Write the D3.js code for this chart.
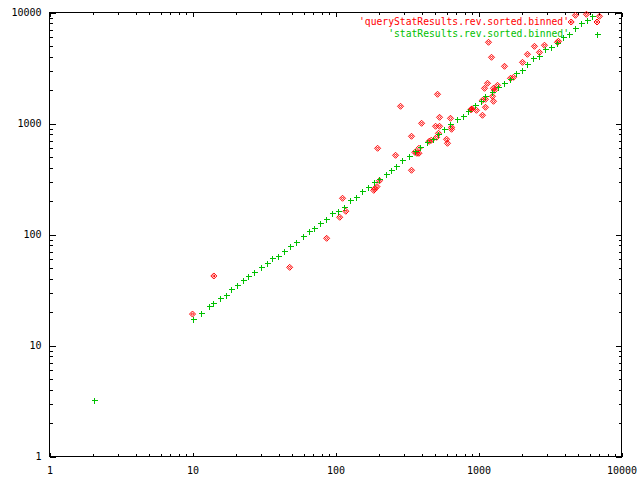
<!DOCTYPE html>
<html>
<head>
<meta charset="utf-8">
<script src="https://cdn.jsdelivr.net/npm/d3@7"></script>
<style>
  body { margin: 0; background: #fff; }
  text { font-family: "DejaVu Sans Mono", monospace; font-size: 10px; }
  .legend text { font-size: 9.7px; }
</style>
</head>
<body>
<div id="chart"></div>
<script>

var width = 640;
var height = 480;

// series 1: 'queryStatResults.rev.sorted.binned' (red diamonds)
var queryX = [10, 14.1, 47.8, 86.7, 107, 112, 118, 185, 189, 195, 203, 197, 263, 285, 340, 340, 400,
  359, 371, 383, 383, 452, 467, 501, 517, 534, 534, 525, 509, 637, 648, 648, 598, 607,
  885, 894, 903, 968, 1066, 1066, 1119, 1119, 1102, 1156, 1273, 1294, 1253, 1273, 1358,
  1233, 1175, 1520, 1757, 1674, 2031, 2200, 2462, 2669, 2892, 3566, 3624, 4446, 4764, 5685, 7011];
var queryY = [19.2, 42.3, 50.6, 92.4, 143, 212, 162, 250, 259, 270, 305, 598, 517, 1429, 379, 767, 1004,
  550, 539, 598, 539, 691, 706, 944, 1833, 1137, 944, 816, 751, 1114, 924, 887, 721, 663,
  1330, 1343, 1356, 1315, 1186, 1618, 1652, 1400, 2075, 2302, 2075, 1991, 1758, 1585, 2208,
  3949, 5391, 3276, 2608, 2554, 3558, 4201, 4958, 4377, 5070, 5391, 5505, 8210, 9436, 9638, 9245];

// series 2: 'statResults.rev.sorted.binned' (green crosses)
var statX = [2.06, 10, 11.4, 13, 13.8, 15.5, 17.1, 18.5, 20.4, 22.4, 24.3, 26.8, 30, 33, 36, 39.4,
  43.4, 47.8, 52.6, 58.9, 64.9, 70.3, 77.4, 85.3, 94, 103.5, 114, 126, 138, 152, 168, 185,
  203, 224, 243, 267, 294, 324, 357, 393, 433, 477, 525, 578, 637, 702, 773, 851, 938, 1033,
  1119, 1233, 1358, 1496, 1648, 1815, 1999, 2200, 2423, 2669, 2940, 3238, 3566, 3928, 4326,
  4764, 5247, 5779, 6266];
var statY = [3.23, 17.2, 19.6, 22.5, 24, 26.6, 28.3, 32.1, 34.9, 38.7, 42, 45.6, 50.7, 55, 61.1, 63.6,
  70.6, 78.8, 85.1, 96.9, 107, 114, 126, 137, 155, 162, 176, 203, 216, 245, 266, 295,
  314, 349, 379, 411, 466, 507, 562, 611, 677, 721, 800, 887, 984, 1091, 1161, 1288, 1459, 1585,
  1758, 1910, 2119, 2302, 2501, 2833, 3015, 3415, 3868, 4030, 4660, 4857, 5286, 5985, 6364,
  7208, 7993, 8503, 9245];

var majorTicks = [1, 10, 100, 1000, 10000];
var legendNames = ["'queryStatResults.rev.sorted.binned'", "'statResults.rev.sorted.binned'"];
var colors = ["#ff0000", "#00c000"];

var minorTicks = [];
majorTicks.slice(0, 4).forEach(function(d){
  for (var k = 2; k < 10; k++) minorTicks.push(d * k);
});

var svg = d3.select("#chart")
  .append("svg")
  .attr("width", width)
  .attr("height", height);

// plot frame (note: "top" is reserved on window, so use other names)
var plotLeft = 49.5, plotRight = 621.5, plotTop = 12.5, plotBottom = 456.5;

var x = d3.scaleLog().domain([1, 10000]).range([plotLeft, plotRight]);
var y = d3.scaleLog().domain([1, 10000]).range([plotBottom, plotTop]);

function styleAxis(g){
  g.select(".domain").remove();
  g.attr("font-family", null).attr("font-size", null);
  g.selectAll("line").attr("stroke", "#000").attr("shape-rendering", "crispEdges");
  g.selectAll("text").attr("fill", "#000");
}

// bottom + top
svg.append("g").attr("transform", "translate(0," + plotBottom + ")")
  .call(d3.axisBottom(x).tickValues(majorTicks).tickFormat(d3.format("d")).tickSize(-4).tickPadding(10))
  .call(styleAxis);
svg.append("g").attr("transform", "translate(0," + plotBottom + ")")
  .call(d3.axisBottom(x).tickValues(minorTicks).tickFormat("").tickSize(-2.5))
  .call(styleAxis);
svg.append("g").attr("transform", "translate(0," + plotTop + ")")
  .call(d3.axisTop(x).tickValues(majorTicks).tickFormat("").tickSize(-4))
  .call(styleAxis);
svg.append("g").attr("transform", "translate(0," + plotTop + ")")
  .call(d3.axisTop(x).tickValues(minorTicks).tickFormat("").tickSize(-2.5))
  .call(styleAxis);

// left + right
svg.append("g").attr("transform", "translate(" + plotLeft + ",0)")
  .call(d3.axisLeft(y).tickValues(majorTicks).tickFormat(d3.format("d")).tickSize(-6).tickPadding(8))
  .call(styleAxis);
svg.append("g").attr("transform", "translate(" + plotLeft + ",0)")
  .call(d3.axisLeft(y).tickValues(minorTicks).tickFormat("").tickSize(-3))
  .call(styleAxis);
svg.append("g").attr("transform", "translate(" + plotRight + ",0)")
  .call(d3.axisRight(y).tickValues(majorTicks).tickFormat("").tickSize(-6))
  .call(styleAxis);
svg.append("g").attr("transform", "translate(" + plotRight + ",0)")
  .call(d3.axisRight(y).tickValues(minorTicks).tickFormat("").tickSize(-3))
  .call(styleAxis);

svg.append("rect")
  .attr("x", plotLeft).attr("y", plotTop)
  .attr("width", plotRight - plotLeft).attr("height", plotBottom - plotTop)
  .attr("fill", "none").attr("stroke", "#000")
  .attr("shape-rendering", "crispEdges");

function diamondPath(cx, cy){
  var r = 3, r2 = 1.2;
  return "M" + cx + "," + (cy - r) + "L" + (cx + r) + "," + cy + "L" + cx + "," + (cy + r) + "L" + (cx - r) + "," + cy + "Z" +
    "M" + cx + "," + (cy - r2) + "L" + (cx + r2) + "," + cy + "L" + cx + "," + (cy + r2) + "L" + (cx - r2) + "," + cy + "Z";
}
function plusPath(cx, cy){
  var r = 3;
  return "M" + (cx - r) + "," + cy + "H" + (cx + r) + "M" + cx + "," + (cy - r) + "V" + (cy + r);
}

var queryData = queryX.map(function(d, i){ return [d, queryY[i]]; });
var statData = statX.map(function(d, i){ return [d, statY[i]]; });

// legend
var legend = svg.append("g").attr("class", "legend");
legendNames.forEach(function(name, i){
  var ly = 22 + i * 12;
  legend.append("text")
    .attr("x", 569).attr("y", ly)
    .attr("dy", "0.35em")
    .attr("text-anchor", "end")
    .attr("fill", colors[i])
    .text(name);
});
legend.append("path")
  .attr("d", diamondPath(597, 22))
  .attr("fill", "none").attr("stroke", colors[0]);
legend.append("path")
  .attr("d", plusPath(597.5, 34.5))
  .attr("fill", "none").attr("stroke", colors[1])
  .attr("shape-rendering", "crispEdges");

svg.append("g").selectAll("path")
  .data(queryData)
  .enter()
  .append("path")
  .attr("d", function(d){ return diamondPath(x(d[0]), y(d[1])); })
  .attr("fill", "none")
  .attr("stroke", colors[0])
  .attr("stroke-width", 1);

svg.append("g").selectAll("path")
  .data(statData)
  .enter()
  .append("path")
  .attr("d", function(d){ return plusPath(Math.round(x(d[0])) + 0.5, Math.round(y(d[1])) + 0.5); })
  .attr("fill", "none")
  .attr("stroke", colors[1])
  .attr("stroke-width", 1)
  .attr("shape-rendering", "crispEdges");

</script>
</body>
</html>
